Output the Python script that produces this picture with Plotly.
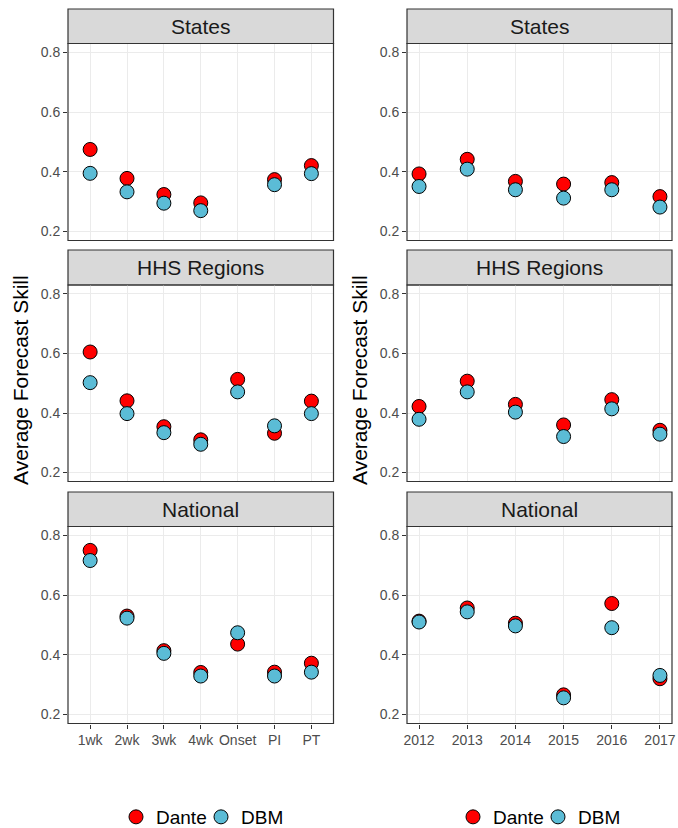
import plotly.graph_objects as go

# ---------------- data ----------------
targets = ["1wk", "2wk", "3wk", "4wk", "Onset", "PI", "PT"]
seasons = [2012, 2013, 2014, 2015, 2016, 2017]
regions = ["States", "HHS Regions", "National"]
models = ["Dante", "DBM"]

states_dante_target = [0.475, 0.378, 0.324, 0.296, None, 0.374, 0.421]
states_dbm_target = [0.395, 0.333, 0.295, 0.270, None, 0.357, 0.394]
hhs_dante_target = [0.605, 0.441, 0.354, 0.310, 0.513, 0.332, 0.440]
hhs_dbm_target = [0.502, 0.398, 0.334, 0.295, 0.471, 0.357, 0.398]
nat_dante_target = [0.750, 0.530, 0.414, 0.341, 0.436, 0.342, 0.372]
nat_dbm_target = [0.716, 0.523, 0.405, 0.329, 0.474, 0.329, 0.342]

states_dante_season = [0.393, 0.442, 0.368, 0.359, 0.364, 0.317]
states_dbm_season = [0.351, 0.409, 0.340, 0.312, 0.340, 0.282]
hhs_dante_season = [0.422, 0.507, 0.429, 0.360, 0.445, 0.342]
hhs_dbm_season = [0.379, 0.471, 0.403, 0.321, 0.414, 0.329]
nat_dante_season = [0.513, 0.557, 0.506, 0.266, 0.572, 0.320]
nat_dbm_season = [0.510, 0.544, 0.497, 0.256, 0.491, 0.331]

y_ticks = [0.2, 0.4, 0.6, 0.8]
y_title = "Average Forecast Skill"

# ---------------- styling ----------------
W, H = 678, 828
FONT = "Liberation Sans, Arial, sans-serif"
COLORS = {"Dante": "#FF0000", "DBM": "#5BBCD6"}
GRID = "#EBEBEB"
BORDER = "#333333"
STRIP_FILL = "#D9D9D9"

def px_x(x):
    return x / W

def px_y(y):
    return 1 - y / H

# column pixel extents (plot area)
cols = [(68, 333.5), (407, 672)]
# row pixel extents: (strip top, strip bottom/plot top, plot bottom)
rows = [(9, 43.5, 240.5), (250, 285, 481.5), (492, 526.5, 723.5)]

left_data = [
    (states_dante_target, states_dbm_target),
    (hhs_dante_target, hhs_dbm_target),
    (nat_dante_target, nat_dbm_target),
]
right_data = [
    (states_dante_season, states_dbm_season),
    (hhs_dante_season, hhs_dbm_season),
    (nat_dante_season, nat_dbm_season),
]

fig = go.Figure()
shapes = []
annotations = []

for c, (xdata, col_data, legend_name) in enumerate(
    [(targets, left_data, "legend"), (seasons, right_data, "legend2")]
):
    x0, x1 = cols[c]
    for r in range(3):
        idx = c * 3 + r + 1
        xa = "x" if idx == 1 else f"x{idx}"
        ya = "y" if idx == 1 else f"y{idx}"
        s_top, p_top, p_bot = rows[r]
        for m, vals in zip(models, col_data[r]):
            fig.add_trace(go.Scatter(
                x=xdata, y=vals, mode="markers", name=m,
                xaxis=xa, yaxis=ya,
                marker=dict(size=14, color=COLORS[m],
                            line=dict(color="black", width=1)),
                legend=legend_name,
                showlegend=(r == 0),
                cliponaxis=False,
            ))
        bottom = (r == 2)
        xkey = "xaxis" if idx == 1 else f"xaxis{idx}"
        ykey = "yaxis" if idx == 1 else f"yaxis{idx}"
        xaxis = dict(
            domain=[px_x(x0), px_x(x1)], anchor=ya,
            showgrid=True, gridcolor=GRID, gridwidth=1,
            zeroline=False, showline=False,
            showticklabels=bottom, ticks="outside" if bottom else "",
            ticklen=4, tickcolor=BORDER, tickwidth=1,
            tickfont=dict(family=FONT, size=14, color="#4D4D4D"),
        )
        if c == 0:
            xaxis.update(type="category", categoryorder="array",
                         categoryarray=targets, range=[-0.6, 6.6])
        else:
            xaxis.update(type="linear", range=[2011.75, 2017.25],
                         tickvals=seasons, ticktext=[str(s) for s in seasons])
        yaxis = dict(
            domain=[px_y(p_bot), px_y(p_top)], anchor=xa,
            range=[0.17, 0.83], tickvals=y_ticks,
            ticktext=[f"{v:.1f}" for v in y_ticks],
            showgrid=True, gridcolor=GRID, gridwidth=1,
            zeroline=False, showline=False,
            ticks="outside", ticklen=4, tickcolor=BORDER, tickwidth=1,
            tickfont=dict(family=FONT, size=14, color="#4D4D4D"),
        )
        fig.update_layout(**{xkey: xaxis, ykey: yaxis})

        # panel border
        shapes.append(dict(type="rect", xref="paper", yref="paper",
                           x0=px_x(x0), x1=px_x(x1),
                           y0=px_y(p_bot), y1=px_y(p_top),
                           line=dict(color=BORDER, width=1.2),
                           fillcolor="rgba(0,0,0,0)", layer="above"))
        # strip
        shapes.append(dict(type="rect", xref="paper", yref="paper",
                           x0=px_x(x0), x1=px_x(x1),
                           y0=px_y(p_top), y1=px_y(s_top),
                           line=dict(color=BORDER, width=1.2),
                           fillcolor=STRIP_FILL, layer="below"))
        annotations.append(dict(text=regions[r], xref="paper", yref="paper",
                                x=px_x((x0 + x1) / 2),
                                y=px_y((s_top + p_top) / 2),
                                xanchor="center", yanchor="middle",
                                showarrow=False,
                                font=dict(family=FONT, size=21, color="#1A1A1A")))

    # y axis title for the column
    annotations.append(dict(text=y_title, xref="paper", yref="paper",
                            x=px_x(20 + (0 if c == 0 else 339)), y=px_y(380),
                            xanchor="center", yanchor="middle",
                            textangle=-90, showarrow=False,
                            font=dict(family=FONT, size=21, color="black")))

legend_style = dict(orientation="h", xanchor="center", yanchor="middle",
                    y=px_y(817), font=dict(family=FONT, size=19, color="black"),
                    bgcolor="rgba(0,0,0,0)", itemsizing="trace",
                    traceorder="normal", tracegroupgap=0, entrywidth=40)

fig.update_layout(
    width=W, height=H,
    margin=dict(l=0, r=0, t=0, b=0, autoexpand=False),
    paper_bgcolor="white", plot_bgcolor="white",
    shapes=shapes, annotations=annotations,
    legend=dict(x=px_x(201), **legend_style),
    legend2=dict(x=px_x(538), **legend_style),
    font=dict(family=FONT),
)

fig.write_html("out.html")
